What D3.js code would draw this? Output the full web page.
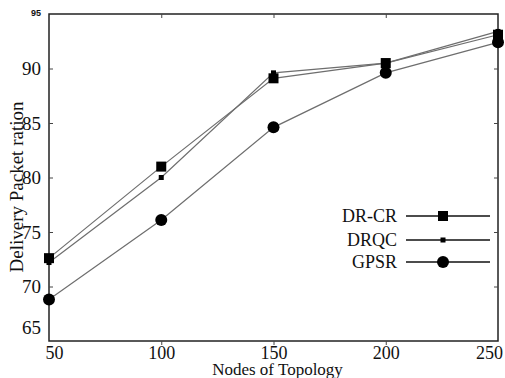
<!DOCTYPE html>
<html>
<head>
<meta charset="utf-8">
<script src="https://cdn.jsdelivr.net/npm/d3@7"></script>
<style>
  html, body { margin: 0; padding: 0; background: #fff; }
  svg { display: block; }
</style>
</head>
<body>
<div id="chart"></div>
<script>
// ---- data ----
const nodes = [50, 100, 150, 200, 250];
const drcr = [72.6, 81.0, 89.1, 90.5, 93.1];
const drqc = [72.2, 80.0, 89.6, 90.5, 93.4];
const gpsr = [68.8, 76.1, 84.6, 89.6, 92.4];
const seriesNames = ["DR-CR", "DRQC", "GPSR"];
const xTicks = [50, 100, 150, 200, 250];
const yTicks = [65, 70, 75, 80, 85, 90, 95];

const W = 505, H = 378;
const margin = { left: 49, right: 7, top: 14, bottom: 37 };
const svg = d3.select("#chart").append("svg").attr("width", W).attr("height", H);

const x = d3.scaleLinear().domain([50, 250]).range([margin.left, W - margin.right]);
const y = d3.scaleLinear().domain([65, 95]).range([H - margin.bottom, margin.top]);

const serif = '"Liberation Serif", "DejaVu Serif", serif';

// frame
svg.append("rect")
  .attr("x", x(50)).attr("y", y(95))
  .attr("width", x(250) - x(50)).attr("height", y(65) - y(95))
  .attr("fill", "none").attr("stroke", "#222").attr("stroke-width", 1.5);

// axes
const yAxis = d3.axisLeft(y).tickValues(yTicks).tickSizeInner(-4).tickSizeOuter(0).tickPadding(8);
const gy = svg.append("g").attr("transform", `translate(${x(50)},0)`).call(yAxis);
gy.attr("font-family", null);
gy.select(".domain").remove();
gy.selectAll("text").style("font-family", serif).style("font-size", "19px").attr("fill", "#111");
gy.selectAll(".tick").filter(d => d === 65).select("text").attr("dy", "-0.4em");
gy.selectAll(".tick").filter(d => d === 95).select("text")
  .style("font-family", '"Liberation Sans", Arial, sans-serif').style("font-size", "9px").style("font-weight", "bold").attr("dy", "0.2em");
gy.selectAll(".tick").filter(d => d === 65 || d === 95).select("line").remove();
gy.selectAll("line").attr("stroke", "#444");

const yAxisR = d3.axisRight(y).tickValues(yTicks.filter(d => d !== 65 && d !== 95)).tickSizeInner(-4).tickSizeOuter(0).tickFormat("");
const gyr = svg.append("g").attr("transform", `translate(${x(250)},0)`).call(yAxisR);
gyr.select(".domain").remove();
gyr.selectAll("line").attr("stroke", "#444");

const xAxis = d3.axisBottom(x).tickValues(xTicks).tickSizeInner(4).tickSizeOuter(0).tickPadding(1);
const gx = svg.append("g").attr("transform", `translate(0,${y(65)})`).call(xAxis);
gx.attr("font-family", null);
gx.select(".domain").remove();
gx.selectAll("text").style("font-family", serif).style("font-size", "18px").attr("fill", "#111");
gx.selectAll(".tick").filter(d => d === 50 || d === 250).select("line").remove();
gx.selectAll(".tick").filter(d => d === 50).select("text").attr("dx", "5");
gx.selectAll(".tick").filter(d => d === 250).select("text").attr("dx", "-9");
gx.selectAll("line").attr("stroke", "#444");

const xAxisT = d3.axisTop(x).tickValues(xTicks.filter(d => d !== 50 && d !== 250)).tickSizeInner(-4).tickSizeOuter(0).tickFormat("");
const gxt = svg.append("g").attr("transform", `translate(0,${y(95)})`).call(xAxisT);
gxt.select(".domain").remove();
gxt.selectAll("line").attr("stroke", "#444");

// axis titles
svg.append("text")
  .attr("x", (x(50) + x(250)) / 2 + 4).attr("y", 375)
  .attr("text-anchor", "middle").style("font-family", serif).style("font-size", "17px").attr("fill", "#111")
  .text("Nodes of Topology");
svg.append("text")
  .attr("transform", "translate(23,187) rotate(-90)")
  .attr("text-anchor", "middle").style("font-family", serif).style("font-size", "19px").attr("fill", "#111")
  .text("Delivery Packet ration");

// series
const series = [
  { name: seriesNames[0], values: drcr, marker: "bigsquare" },
  { name: seriesNames[1], values: drqc, marker: "smallsquare" },
  { name: seriesNames[2], values: gpsr, marker: "circle" }
];
const line = d3.line().x((d, i) => x(nodes[i])).y(d => y(d));

function drawMarker(g, kind, cx, cy) {
  if (kind === "bigsquare") {
    g.append("rect").attr("x", cx - 5).attr("y", cy - 5).attr("width", 10).attr("height", 10).attr("fill", "#000");
  } else if (kind === "smallsquare") {
    g.append("rect").attr("x", cx - 2.5).attr("y", cy - 2.5).attr("width", 5).attr("height", 5).attr("fill", "#000");
  } else {
    g.append("circle").attr("cx", cx).attr("cy", cy).attr("r", 6).attr("fill", "#000");
  }
}

series.forEach(s => {
  svg.append("path").datum(s.values).attr("d", line)
    .attr("fill", "none").attr("stroke", "#6e6e6e").attr("stroke-width", 1.2);
});
series.forEach(s => {
  const g = svg.append("g");
  s.values.forEach((v, i) => drawMarker(g, s.marker, x(nodes[i]), y(v)));
});

// legend
const legY = [216, 240, 262];
series.forEach((s, i) => {
  const g = svg.append("g");
  g.append("text").attr("x", 397).attr("y", legY[i]).attr("dy", "0.35em")
    .attr("text-anchor", "end").style("font-family", serif).style("font-size", "18px").attr("fill", "#111")
    .text(s.name);
  g.append("line").attr("x1", 406).attr("x2", 490).attr("y1", legY[i]).attr("y2", legY[i])
    .attr("stroke", "#111").attr("stroke-width", 1.5);
  drawMarker(g, s.marker, 443, legY[i]);
});
</script>
</body>
</html>
